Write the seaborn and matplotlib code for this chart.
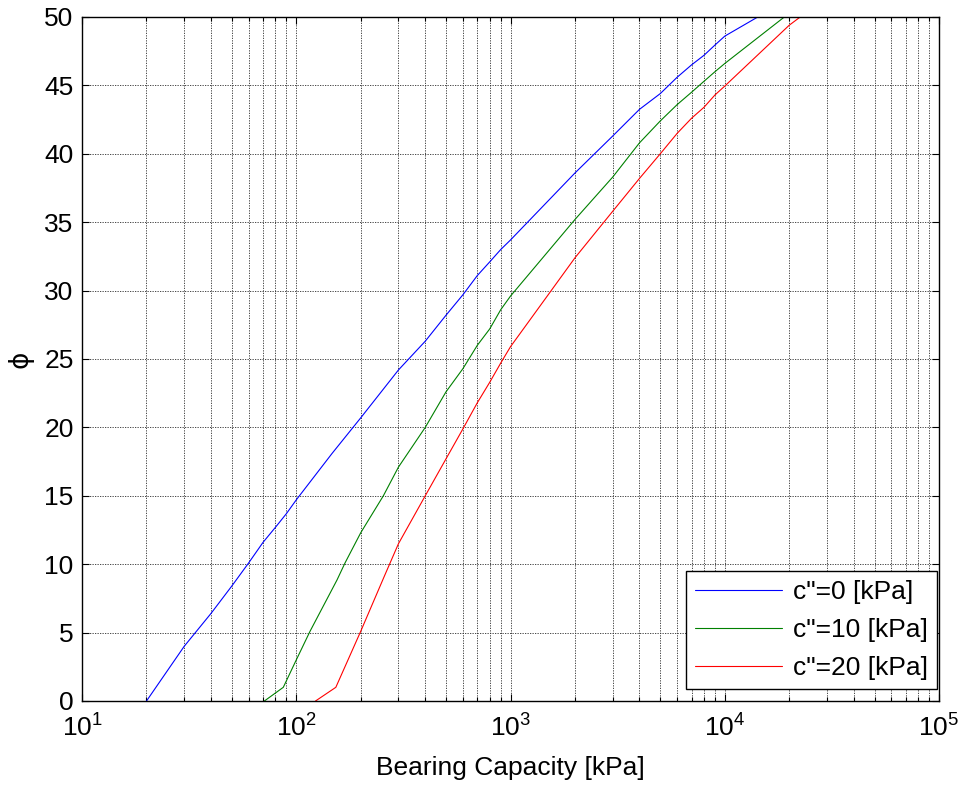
import numpy as np
import pandas as pd
import matplotlib
matplotlib.use("Agg")
import matplotlib.pyplot as plt
import matplotlib.ticker as mticker
import seaborn as sns

# ---- data ----
labels = ['c"=0 [kPa]', 'c"=10 [kPa]', 'c"=20 [kPa]']

q_c0 = [20, 30, 40, 50, 60, 70, 80, 90, 100, 147, 200, 300, 400, 500, 600, 700, 800,
        900, 1000, 2000, 3000, 4000, 5000, 6000, 7000, 8000, 9000, 10000, 14260]
phi_c0 = [0, 4.0, 6.4, 8.4, 10.1, 11.6, 12.7, 13.7, 14.7, 18.1, 20.7, 24.2, 26.3,
          28.2, 29.7, 31.1, 32.1, 33.0, 33.7, 38.6, 41.3, 43.25, 44.4, 45.6, 46.5,
          47.2, 47.95, 48.6, 50]

q_c10 = [71, 87, 100, 116, 155, 169, 200, 255, 300, 400, 500, 600, 700, 800, 900, 1000,
         2000, 3000, 4000, 5000, 6000, 7000, 8000, 9000, 10000, 18970]
phi_c10 = [0, 1, 3.0, 5.1, 8.85, 10.1, 12.3, 15.0, 17.1, 20.0, 22.6, 24.3, 26.0, 27.2,
           28.6, 29.6, 35.2, 38.3, 40.8, 42.4, 43.6, 44.5, 45.3, 46.0, 46.6, 50]

q_c20 = [123, 153, 200, 259, 300, 400, 500, 600, 700, 800, 900, 1000, 1334,
         2000, 3000, 4000, 5000, 6000, 7000, 8000, 9000, 10000, 20000, 22500]
phi_c20 = [0, 1, 5.1, 9.2, 11.5, 15.0, 17.7, 19.9, 21.8, 23.3, 24.7, 25.9,
           28.6, 32.4, 35.8, 38.2, 40.0, 41.5, 42.6, 43.4, 44.3, 44.95, 49.4, 50]

colors = ["#0000ff", "#008000", "#ff0000"]

df = pd.concat([
    pd.DataFrame({"q": q_c0, "phi": phi_c0, "series": labels[0]}),
    pd.DataFrame({"q": q_c10, "phi": phi_c10, "series": labels[1]}),
    pd.DataFrame({"q": q_c20, "phi": phi_c20, "series": labels[2]}),
], ignore_index=True)

sns.set_style("white")
plt.rcParams["font.family"] = ["Liberation Sans", "DejaVu Sans"]
plt.rcParams["mathtext.fontset"] = "custom"
plt.rcParams["mathtext.rm"] = "Liberation Sans"
plt.rcParams["mathtext.it"] = "Liberation Sans"
plt.rcParams["text.color"] = "black"
plt.rcParams["axes.labelcolor"] = "black"
plt.rcParams["xtick.color"] = "black"
plt.rcParams["ytick.color"] = "black"

FS = 19

fig = plt.figure(figsize=(9.64, 7.85), dpi=100)
ax = fig.add_axes([82 / 964, 84 / 785, (939 - 82) / 964, (701 - 17) / 785])

sns.lineplot(data=df, x="q", y="phi", hue="series", hue_order=labels,
             palette=colors, estimator=None, sort=False, linewidth=0.8, ax=ax)

ax.set_xscale("log")
ax.set_xlim(10, 1e5)
ax.set_ylim(0, 50)
ax.set_yticks(np.arange(0, 51, 5))
ax.xaxis.set_major_locator(mticker.LogLocator(base=10, numticks=10))
ax.xaxis.set_minor_locator(mticker.LogLocator(base=10, subs=np.arange(2, 10), numticks=50))
ax.xaxis.set_minor_formatter(mticker.NullFormatter())

grid_kw = dict(color="#2a2a2a", linestyle=(0, (1.5, 1.5)), linewidth=0.6)
ax.grid(which="major", axis="both", **grid_kw)
ax.grid(which="minor", axis="x", **grid_kw)
ax.set_axisbelow(True)

for s in ax.spines.values():
    s.set_color("black")
    s.set_linewidth(1.0)
    s.set_visible(True)

ax.tick_params(which="both", direction="in", top=True, right=True,
               bottom=True, left=True, colors="black", width=0.8)
ax.tick_params(which="major", length=5, labelsize=FS)
ax.tick_params(which="minor", length=3)
ax.tick_params(axis="x", which="major", pad=10)
ax.tick_params(axis="y", which="major", pad=6)

ax.set_xlabel("Bearing Capacity [kPa]", fontsize=FS, labelpad=10, color="black")
ax.set_ylabel("ϕ", fontsize=FS, labelpad=8, family=["DejaVu Sans"], color="black")

leg = ax.legend(loc="lower right", bbox_to_anchor=(0.998, 0.0175), fontsize=FS,
                frameon=True, fancybox=False, edgecolor="black", framealpha=1,
                handlelength=3.3, handletextpad=0.4, labelspacing=0.52,
                borderpad=0.35, borderaxespad=0)
leg.get_frame().set_linewidth(1.0)
for line in leg.get_lines():
    line.set_linewidth(0.8)
for t in leg.get_texts():
    t.set_color("black")

fig.savefig("out.png", dpi=100)
